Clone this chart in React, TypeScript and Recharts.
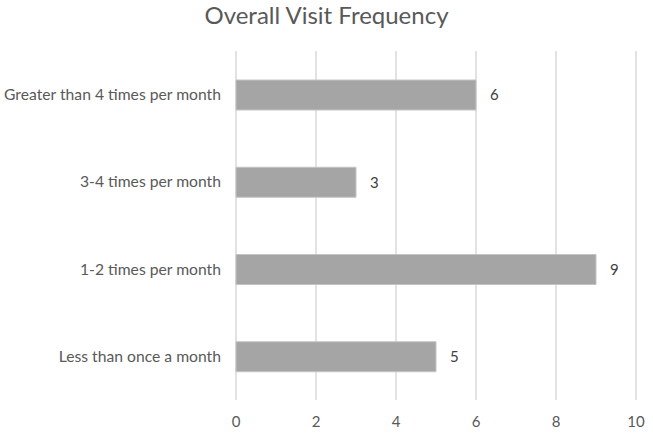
import React from "react";
import { Bar, BarChart, CartesianGrid, LabelList, XAxis, YAxis } from "recharts";

const categories = [
  "Greater than 4 times per month",
  "3-4 times per month",
  "1-2 times per month",
  "Less than once a month"
];
const visitCounts = [6, 3, 9, 5];
const xTicks = [0, 2, 4, 6, 8, 10];

const chartData = categories.map((name, i) => ({ name, count: visitCounts[i] }));

const FONT = "Lato, 'Open Sans', sans-serif";

export default function App(): React.JSX.Element {
  return (
    <div style={{ position: "absolute", left: 0, top: 0, width: 653, height: 436, background: "#fff", fontFamily: FONT }}>
      <div
        style={{
          position: "absolute",
          top: 0,
          left: 0,
          width: 653,
          textAlign: "center",
          fontSize: 24,
          lineHeight: "normal",
          color: "#595959"
        }}
      >
        Overall Visit Frequency
      </div>
      <BarChart
        width={653}
        height={436}
        data={chartData}
        layout="vertical"
        margin={{ top: 51, right: 17, left: 0, bottom: 6 }}
      >
        <CartesianGrid horizontal={false} stroke="#d9d9d9" strokeWidth={1.5} />
        <XAxis
          type="number"
          domain={[0, 10]}
          ticks={xTicks}
          axisLine={false}
          tickLine={false}
          tickSize={0}
          tickMargin={16}
          height={30}
          tick={{ fill: "#595959", fontSize: 15, fontFamily: FONT }}
        />
        <YAxis
          type="category"
          dataKey="name"
          width={236}
          axisLine={false}
          tickLine={false}
          tickSize={0}
          tickMargin={15}
          tick={{ fill: "#595959", fontSize: 15.7, fontFamily: FONT }}
        />
        <Bar dataKey="count" fill="#a5a5a5" stroke="#c4c4c4" strokeWidth={1} barSize={30} isAnimationActive={false}>
          <LabelList dataKey="count" position="right" offset={14} fill="#404040" fontSize={15} fontFamily={FONT} />
        </Bar>
      </BarChart>
    </div>
  );
}
